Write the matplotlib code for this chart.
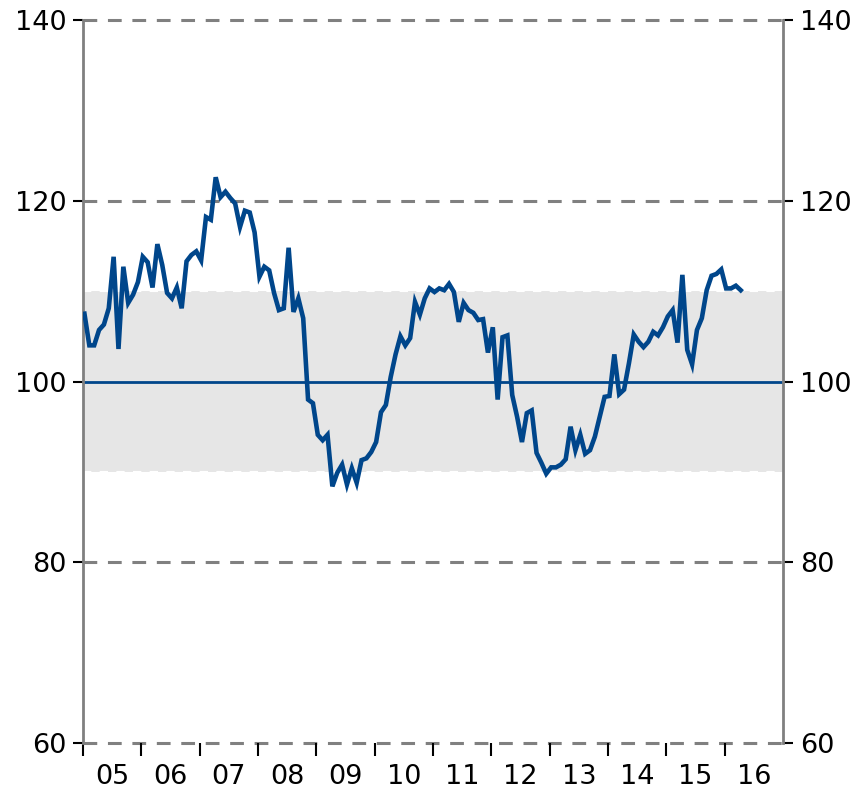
import numpy as np
import matplotlib
matplotlib.use("Agg")
import matplotlib.pyplot as plt

# ---------------------------------------------------------------------------
# Data: monthly index values, Jan 2005 - Apr 2016
# ---------------------------------------------------------------------------
start_year = 2005
values_2005 = [107.5, 104.0, 104.0, 105.7, 106.3, 108.1, 113.8, 103.6, 112.7, 108.7, 109.6, 111.0]
values_2006 = [113.8, 113.2, 110.4, 115.2, 112.9, 109.8, 109.2, 110.4, 108.1, 113.3, 114.0, 114.4]
values_2007 = [113.4, 118.2, 117.9, 122.6, 120.4, 121.0, 120.3, 119.7, 117.1, 118.9, 118.7, 116.5]
values_2008 = [111.6, 112.7, 112.3, 109.8, 107.9, 108.1, 114.8, 107.7, 109.2, 107.0, 98.0, 97.6]
values_2009 = [94.1, 93.5, 94.1, 88.4, 89.9, 90.8, 88.6, 90.4, 88.8, 91.3, 91.5, 92.2]
values_2010 = [93.3, 96.6, 97.4, 100.5, 103.0, 105.0, 104.0, 104.8, 108.8, 107.4, 109.2, 110.3]
values_2011 = [109.9, 110.3, 110.1, 110.8, 109.9, 106.6, 108.7, 107.9, 107.6, 106.8, 106.9, 103.2]
values_2012 = [106.0, 98.0, 104.9, 105.1, 98.5, 96.1, 93.3, 96.5, 96.8, 92.1, 91.0, 89.8]
values_2013 = [90.5, 90.5, 90.8, 91.4, 95.0, 92.4, 94.1, 92.0, 92.4, 93.9, 96.1, 98.3]
values_2014 = [98.4, 103.0, 98.6, 99.1, 102.0, 105.2, 104.4, 103.8, 104.4, 105.5, 105.1, 106.0]
values_2015 = [107.2, 107.9, 104.3, 111.8, 103.5, 101.9, 105.7, 107.0, 110.1, 111.7, 111.9, 112.4]
values_2016 = [110.3, 110.3, 110.6, 110.1]

year_labels = ["05", "06", "07", "08", "09", "10", "11", "12", "13", "14", "15", "16"]
y_ticks = [60, 80, 100, 120, 140]
band_low, band_high = 90, 110
reference_level = 100

values = (values_2005 + values_2006 + values_2007 + values_2008 + values_2009
          + values_2010 + values_2011 + values_2012 + values_2013 + values_2014
          + values_2015 + values_2016)
months = start_year + (np.arange(len(values)) + 0.3) / 12.0

LINE_BLUE = "#00468b"
GRID_GREY = "#808080"

# ---------------------------------------------------------------------------
# Figure
# ---------------------------------------------------------------------------
fig = plt.figure(figsize=(8.57, 7.90), dpi=100)
ax = fig.add_axes([83 / 857, 1 - 743 / 790, 700 / 857, 723 / 790])

ax.set_xlim(2005, 2017)
ax.set_ylim(60, 140)

# shaded band between 90 and 110
ax.axhspan(band_low, band_high, color="#e6e6e6", lw=0, zorder=0)
for lvl in (band_low, band_high):
    ax.axhline(lvl, color="white", lw=1.5, ls=(0, (4, 4)), zorder=1)

# dashed grid
for lvl in (60, 80, 120, 140):
    ax.axhline(lvl, color=GRID_GREY, lw=2.2, ls=(0, (4.5, 3.5)), zorder=1, clip_on=False)

ax.axhline(reference_level, color=LINE_BLUE, lw=2.0, zorder=2)
ax.plot(months, values, color=LINE_BLUE, lw=3.3, zorder=3, solid_joinstyle="miter")

# spines
for side in ("top", "bottom"):
    ax.spines[side].set_visible(False)
for side in ("left", "right"):
    ax.spines[side].set_color(GRID_GREY)
    ax.spines[side].set_linewidth(2.0)

# x axis: tick marks at year boundaries, labels at mid-year
years = np.arange(2005, 2017)
ax.set_xticks(years)
ax.set_xticklabels([])
ax.set_xticks(years + 0.5, minor=True)
ax.set_xticklabels(year_labels, minor=True)
ax.tick_params(axis="x", which="major", length=9, width=1.5, color="black", direction="out")
ax.tick_params(axis="x", which="minor", length=0, labelsize=19.5, pad=15)

# y axis on both sides
ax.set_yticks(y_ticks)
ax.set_yticklabels([str(t) for t in y_ticks])
ax.tick_params(axis="y", length=7, width=1.5, color="black", direction="out",
               labelsize=19.5, pad=5, left=True, right=True, labelleft=True, labelright=True)

fig.savefig("out.png", dpi=100)
plt.close(fig)
